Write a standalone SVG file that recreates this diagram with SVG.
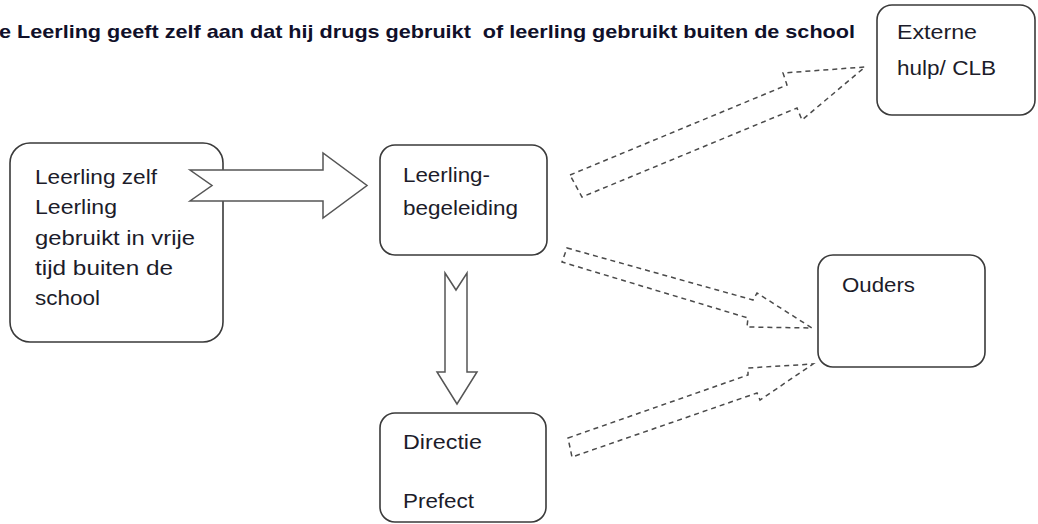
<svg xmlns="http://www.w3.org/2000/svg" width="1038" height="524" viewBox="0 0 1038 524">
  <style>
    .box { fill: #ffffff; stroke: #3a3a3a; stroke-width: 1.6; }
    .txt { font-family: "Liberation Sans", Arial, sans-serif; font-size: 21px; fill: #1c1c2a; }
    .title { font-family: "Liberation Sans", Arial, sans-serif; font-size: 19px; font-weight: bold; fill: #10102a; white-space: pre; }
    .solid { fill: #ffffff; stroke: #555555; stroke-width: 1.5; stroke-linejoin: miter; }
    .dash { fill: none; stroke: #4a4a4a; stroke-width: 1.5; stroke-dasharray: 5 4; }
  </style>
  <rect width="1038" height="524" fill="#ffffff"/>
  <text class="title" x="-1" y="38" textLength="856" lengthAdjust="spacingAndGlyphs" xml:space="preserve">e Leerling geeft zelf aan dat hij drugs gebruikt  of leerling gebruikt buiten de school</text>

  <g id="leerling-zelf">
    <rect class="box" x="10" y="143" width="213" height="199" rx="20"/>
    <text class="txt" x="35" y="184" textLength="122" lengthAdjust="spacingAndGlyphs">Leerling zelf</text>
    <text class="txt" x="35" y="214" textLength="82" lengthAdjust="spacingAndGlyphs">Leerling</text>
    <text class="txt" x="35" y="245" textLength="160" lengthAdjust="spacingAndGlyphs">gebruikt in vrije</text>
    <text class="txt" x="35" y="275" textLength="138" lengthAdjust="spacingAndGlyphs">tijd buiten de</text>
    <text class="txt" x="35" y="305" textLength="65" lengthAdjust="spacingAndGlyphs">school</text>
  </g>

  <g id="leerlingbegeleiding">
    <rect class="box" x="380" y="145" width="167" height="110" rx="15"/>
    <text class="txt" x="403" y="182" textLength="87" lengthAdjust="spacingAndGlyphs">Leerling-</text>
    <text class="txt" x="403" y="215" textLength="115" lengthAdjust="spacingAndGlyphs">begeleiding</text>
  </g>

  <g id="externe-hulp">
    <rect class="box" x="877" y="5" width="158" height="110" rx="15"/>
    <text class="txt" x="897" y="39" textLength="80" lengthAdjust="spacingAndGlyphs">Externe</text>
    <text class="txt" x="897" y="75" textLength="99" lengthAdjust="spacingAndGlyphs">hulp/ CLB</text>
  </g>

  <g id="ouders">
    <rect class="box" x="818" y="255" width="167" height="112" rx="15"/>
    <text class="txt" x="842" y="292" textLength="73" lengthAdjust="spacingAndGlyphs">Ouders</text>
  </g>

  <g id="directie">
    <rect class="box" x="380" y="413" width="166" height="109" rx="15"/>
    <text class="txt" x="403" y="449" textLength="79" lengthAdjust="spacingAndGlyphs">Directie</text>
    <text class="txt" x="403" y="508" textLength="71" lengthAdjust="spacingAndGlyphs">Prefect</text>
  </g>

  <g id="connectors">
    <polygon class="solid" points="190,170 323,170 323,153 367,185.5 323,218 323,201 190,201 212,185.5"/>
    <polygon class="solid" points="445,273 456,290 467,273 467,372 477,372 457,404 437,372 445,372"/>
    <polygon class="dash" points="570,175 787,85 783,73 865,67 802,120 797,108 582,197"/>
    <polygon class="dash" points="567,248 753,300 757,293 812,328 747,327 748,318 562,262"/>
    <polygon class="dash" points="568,438 748,375 748,368 813,364 760,400 757,393 572,457"/>
  </g>
</svg>
